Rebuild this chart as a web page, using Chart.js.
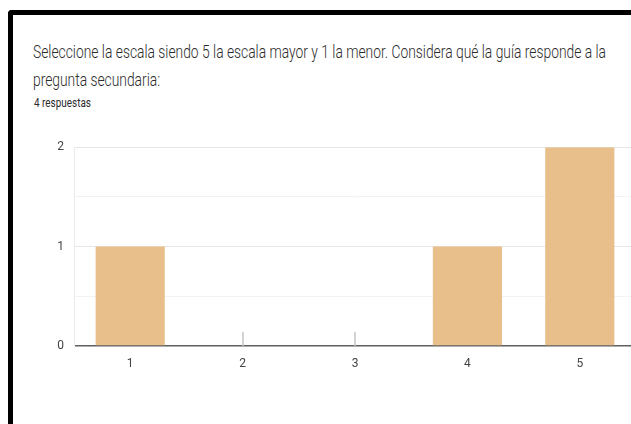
<!DOCTYPE html>
<html>
<head>
<meta charset="utf-8">
<script src="https://cdn.jsdelivr.net/npm/chart.js@4.4.0/dist/chart.umd.min.js"></script>
<style>
    html, body { margin: 0; padding: 0; background: #fff; overflow: hidden; width: 631px; height: 424px; }
    #frame { position: absolute; left: 8px; top: 10px; width: 700px; height: 500px; border-top: 5px solid #000; border-left: 5px solid #000; border-top-left-radius: 4px; }
    .txt { position: absolute; left: 33px; white-space: nowrap; font-family: Roboto, sans-serif; color: #2b2b2b; transform-origin: 0 50%; }
    #t1 { top: 40px; font-size: 18px; line-height: 24px; font-weight: 300; }
    #t2 { top: 68px; font-size: 18px; line-height: 24px; font-weight: 300; }
    #sub { left: 34px; top: 95px; font-size: 13px; line-height: 16px; }
    #wrap { position: absolute; left: 0; top: 130px; width: 636px; height: 250px; }
</style>
</head>
<body>
<div id="frame"></div>
<div class="txt" id="t1">Seleccione la escala siendo 5 la escala mayor y 1 la menor. Considera qué la guía responde a la</div>
<div class="txt" id="t2">pregunta secundaria:</div>
<div class="txt" id="sub">4 respuestas</div>
<div id="wrap"><canvas id="chart"></canvas></div>
<script>
const categories = ['1', '2', '3', '4', '5'];
const counts = [1, 0, 0, 1, 2];
const yTicks = [0, 1, 2];

// squeeze the texts to the widths they have in the picture
function squeezeTo(id, w) {
    var el = document.getElementById(id);
    return w / el.getBoundingClientRect().width;
}
var s1 = squeezeTo('t1', 573);
var s2 = squeezeTo('sub', 57);
document.getElementById('t1').style.transform = 'scaleX(' + s1 + ')';
document.getElementById('t2').style.transform = 'scaleX(' + s1 + ')';
document.getElementById('sub').style.transform = 'scaleX(' + s2 + ')';

// little grey stubs that mark the empty answers
const zeroMarks = {
    id: 'zeroMarks',
    afterDatasetsDraw(chart) {
        var x = chart.scales.x;
        var y = chart.scales.y;
        var ctx = chart.ctx;
        ctx.save();
        ctx.strokeStyle = '#c4c4c4';
        ctx.lineWidth = 1.5;
        counts.forEach(function (v, i) {
            if (v !== 0) return;
            var px = Math.round(x.getPixelForValue(i));
            var base = y.getPixelForValue(0);
            ctx.beginPath();
            ctx.moveTo(px, base);
            ctx.lineTo(px, base - 14);
            ctx.stroke();
        });
        ctx.restore();
    }
};

var ctx = document.getElementById('chart').getContext('2d');
new Chart(ctx, {
    type: 'bar',
    data: {
        labels: categories,
        datasets: [{
            data: counts,
            backgroundColor: 'rgb(232, 190, 138)',
            borderWidth: 0,
            categoryPercentage: 1,
            barPercentage: 0.615
        }]
    },
    options: {
        responsive: true,
        maintainAspectRatio: false,
        animation: false,
        layout: { padding: { top: 16, right: 0, left: 0, bottom: 0 } },
        plugins: {
            legend: { display: false },
            tooltip: { enabled: false }
        },
        scales: {
            x: {
                grid: { display: false },
                border: { display: false },
                ticks: {
                    color: '#444',
                    font: { family: 'Roboto', size: 12 },
                    padding: 3
                },
                afterFit(scale) { scale.height = 34; }
            },
            y: {
                min: 0,
                max: 2,
                ticks: {
                    stepSize: 0.5,
                    color: '#444',
                    font: { family: 'Roboto', size: 12 },
                    padding: 10,
                    callback: function (v) { return yTicks.includes(v) ? String(v) : ''; }
                },
                grid: {
                    drawTicks: false,
                    color: function (c) {
                        if (c.tick.value === 0) return '#5f5f5f';
                        return Number.isInteger(c.tick.value) ? '#e6e6e6' : '#f3f3f3';
                    },
                    lineWidth: function (c) { return c.tick.value === 0 ? 1.5 : 1; }
                },
                border: { display: true, color: '#ececec' },
                afterFit(scale) { scale.width = 74; }
            }
        }
    },
    plugins: [zeroMarks]
});
</script>
</body>
</html>
